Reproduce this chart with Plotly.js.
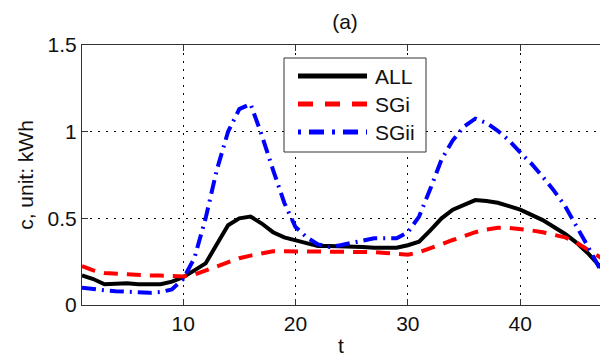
<!DOCTYPE html>
<html>
<head>
<meta charset="utf-8">
<script src="https://cdn.plot.ly/plotly-3.0.1.min.js"></script>
<style>html,body{margin:0;padding:0;overflow:hidden;background:#fff;}#chart{width:600px;height:358px;}</style>
</head>
<body>
<div id="chart"></div>
<script>
var t = [1,2,3,4,5,6,7,8,9,10,11,12,13,14,15,16,17,18,19,20,21,22,23,24,25,26,27,28,29,30,31,32,33,34,35,36,37,38,39,40,41,42,43,44,45,46,47,48];
var ALL = [0.17,0.15,0.12,0.125,0.125,0.12,0.12,0.12,0.135,0.16,0.20,0.24,0.35,0.46,0.50,0.51,0.47,0.42,0.39,0.375,0.355,0.34,0.34,0.34,0.335,0.335,0.33,0.33,0.33,0.345,0.365,0.43,0.50,0.55,0.58,0.605,0.60,0.59,0.57,0.55,0.52,0.49,0.45,0.41,0.36,0.30,0.23,0.17];
var SGi = [0.225,0.20,0.185,0.18,0.175,0.17,0.17,0.17,0.17,0.165,0.175,0.20,0.225,0.25,0.27,0.285,0.30,0.31,0.31,0.31,0.31,0.31,0.31,0.31,0.31,0.31,0.305,0.30,0.295,0.29,0.305,0.325,0.35,0.375,0.40,0.42,0.435,0.445,0.445,0.44,0.43,0.42,0.405,0.39,0.36,0.32,0.28,0.24];
var SGii = [0.10,0.09,0.085,0.08,0.075,0.07,0.07,0.075,0.09,0.15,0.27,0.50,0.78,1.00,1.13,1.16,0.98,0.78,0.59,0.45,0.39,0.35,0.335,0.345,0.36,0.375,0.385,0.385,0.385,0.42,0.51,0.67,0.84,0.95,1.03,1.075,1.05,1.005,0.95,0.88,0.815,0.74,0.66,0.57,0.46,0.34,0.22,0.12];
var seriesNames = ['ALL','SGi','SGii'];
var xTicks = [10,20,30,40];
var yTicks = [0,0.5,1,1.5];
var yTickText = ['0','0.5','1','1.5'];

var colors = ['#000000','#ff0000','#0000ff'];
var dashes = ['solid','14px,9px','14px,6px,2px,6px'];
var legendDashes = ['solid','15px,12px','3px,8px,15px,8px'];
var seriesData = [ALL, SGi, SGii];

var traces = seriesData.map(function(d,i){
  return {x:t, y:d, type:'scatter', mode:'lines', name:seriesNames[i],
    line:{color:colors[i], width:4, dash:dashes[i], shape:'linear'}, showlegend:false};
});

var FONT = 'Liberation Sans, Arial, sans-serif';
// manual MATLAB-style legend (paper coordinates)
var L = {x0:(284-82)/518, x1:(426-82)/518, y0:(305-152)/260, y1:(305-58)/260};
var shapes = [{type:'rect', xref:'paper', yref:'paper', x0:L.x0, x1:L.x1, y0:L.y0, y1:L.y1,
  line:{color:'#333', width:1}, fillcolor:'#fff', layer:'above'}];
var annotations = [];
var rowsY = [76,104,132];
seriesNames.forEach(function(n,i){
  var yy = (305-rowsY[i])/260;
  shapes.push({type:'line', xref:'paper', yref:'paper', x0:(298-82)/518, x1:(367-82)/518, y0:yy, y1:yy,
    line:{color:colors[i], width:5, dash:legendDashes[i]}, layer:'above'});
  annotations.push({xref:'paper', yref:'paper', x:(373-82)/518, y:yy, xanchor:'left', yanchor:'middle',
    text:n, showarrow:false, font:{family:FONT, size:21, color:'#111'}});
});

var layout = {
  width:600, height:358,
  margin:{l:82, r:0, t:45, b:53, pad:0},
  paper_bgcolor:'#fff', plot_bgcolor:'#fff',
  font:{family:FONT, size:21, color:'#111'},
  showlegend:false,
  title:{text:'(a)', xref:'container', x:345/600, xanchor:'center', yref:'container', y:1-22/358, yanchor:'middle',
    font:{family:FONT, size:21, color:'#111'}},
  xaxis:{range:[1,47.1], tickvals:xTicks, ticktext:xTicks.map(String), ticks:'inside', ticklen:6, tickcolor:'#333',
    showline:true, linecolor:'#333', linewidth:1, mirror:'ticks', zeroline:false,
    showgrid:true, gridcolor:'#000', gridwidth:1, griddash:'2px,6px',
    title:{text:'t', standoff:4, font:{family:FONT, size:21, color:'#111'}}, tickfont:{family:FONT, size:21, color:'#111'}},
  yaxis:{range:[0,1.5], tickvals:yTicks, ticktext:yTickText, ticks:'inside', ticklen:6, tickcolor:'#333',
    showline:true, linecolor:'#333', linewidth:1, mirror:false, zeroline:false,
    showgrid:true, gridcolor:'#000', gridwidth:1, griddash:'2px,6px',
    title:{text:'c, unit: kWh', standoff:8, font:{family:FONT, size:21, color:'#111'}}, tickfont:{family:FONT, size:21, color:'#111'}},
  shapes:shapes,
  annotations:annotations
};
Plotly.newPlot('chart', traces, layout, {displayModeBar:false, staticPlot:true});
</script>
</body>
</html>
